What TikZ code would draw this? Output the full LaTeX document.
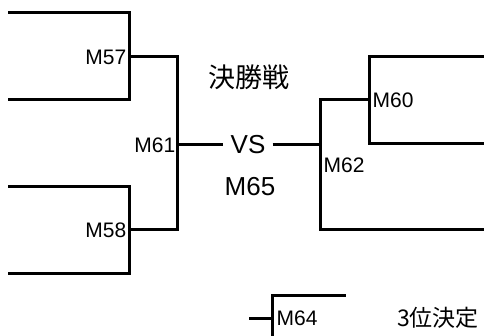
\documentclass[tikz,border=0pt]{standalone}
\usepackage{fontspec}
\setmainfont{Liberation Sans}
\newfontfamily\jp{Noto Sans CJK JP}
\usetikzlibrary{positioning}

\begin{document}
\begin{tikzpicture}[
      x=1pt, y=-1pt,
      line/.style={line width=3pt, line join=miter},
      lbl/.style={inner sep=0.5pt, font=\fontsize{21}{21}\selectfont},
      big/.style={inner sep=0.5pt, font=\fontsize{26}{26}\selectfont},
      title/.style={inner sep=0.5pt, font=\jp\fontsize{27}{27}\selectfont}
    ]
      \useasboundingbox (0,0) rectangle (484,336);

      % left brackets
      \coordinate (q1t) at (8,13);   \coordinate (q1c) at (129,13);
      \coordinate (q1d) at (129,100); \coordinate (q1b) at (8,100);
      \coordinate (q2t) at (8,187);  \coordinate (q2c) at (129,187);
      \coordinate (q2d) at (129,274); \coordinate (q2b) at (8,274);
      \coordinate (m57) at (129,57); \coordinate (m58) at (129,230);
      \coordinate (s61t) at (177,57); \coordinate (s61b) at (177,230);
      \coordinate (m61) at (177,145);

      % right brackets
      \coordinate (m62) at (320,145);
      \coordinate (s62t) at (320,100); \coordinate (s62b) at (320,230);
      \coordinate (e62) at (486,230);
      \coordinate (m60) at (369,100);
      \coordinate (q3t) at (369,57);  \coordinate (q3b) at (369,144);
      \coordinate (e60t) at (486,57); \coordinate (e60b) at (486,144);

      % 3rd place
      \coordinate (m64) at (272,318); \coordinate (s64) at (249,318);
      \coordinate (t64) at (272,296); \coordinate (e64) at (346,296);
      \coordinate (b64) at (272,338);

      \node [big, inner xsep=7pt] (vs) at (248,145) {VS};
      \node [big] (final) at (250,187) {M65};
      \node [title] (finalname) at (249,77.5) {決勝戦};
      \node [title, font=\jp\fontsize{23}{23}\selectfont] (third) at (438,318) {3位決定};

      \node [lbl, left=2pt of m57] (l57) {M57};
      \node [lbl, left=2pt of m58] (l58) {M58};
      \node [lbl, left=1pt of m61] (l61) {M61};
      \node [lbl, right=3pt of m60] (l60) {M60};
      \node [lbl, anchor=west] (l62) at (323,165) {M62};
      \node [lbl, right=4pt of m64] (l64) {M64};

      \draw [line] (q1t) -- (q1c) -- (q1d) -- (q1b);
      \draw [line] (q2t) -- (q2c) -- (q2d) -- (q2b);
      \draw [line] (m57) -- (s61t) -- (s61b) -- (m58);
      \draw [line] (m61) -- (vs.west);
      \draw [line] (vs.east) -- (m62);
      \draw [line] (m60) -- (s62t) -- (s62b) -- (e62);
      \draw [line] (e60t) -- (q3t) -- (q3b) -- (e60b);
      \draw [line] (s64) -- (m64);
      \draw [line] (b64) -- (t64) -- (e64);
    \end{tikzpicture}
\end{document}
